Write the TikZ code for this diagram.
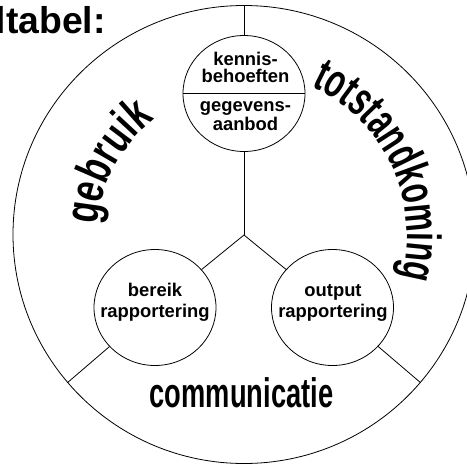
\documentclass[tikz,border=0pt]{standalone}
\usepackage{fontspec}
\setmainfont{Liberation Sans}
\newfontfamily\arcfont{Liberation Sans}[FakeStretch=0.64]
\newfontfamily\arcfontb{Liberation Sans}[FakeStretch=0.71]
\newfontfamily\commfont{Liberation Sans}[FakeStretch=0.66]
\usetikzlibrary{shapes.geometric,decorations.text}
\begin{document}
\begin{tikzpicture}[x=0.75pt,y=0.75pt,
  ring/.style={draw,ellipse,line width=0.6pt,inner sep=0pt},
  small/.style={ring,minimum width=91.5pt,minimum height=87pt},
  lbl/.style={font=\bfseries\fontsize{13.8pt}{16pt}\selectfont,anchor=base,inner sep=0pt},
  spoke/.style={line width=0.6pt},
  arctext/.style 2 args={decorate,decoration={text along path,text align=center,
     text={|#1\bfseries\fontsize{36pt}{40pt}\selectfont|#2}}}]
\useasboundingbox (0,0) rectangle (467,-464);
\coordinate (C) at (244,-234.5);
\node[ring,minimum width=346.5pt,minimum height=343.5pt] (outer) at (C) {};
\node[small] (know) at (244,-93.5) {};
\node[small] (reach) at (155,-307.5) {};
\node[small] (output) at (332.5,-307.5) {};
\coordinate (J) at (244,-235);
\draw[spoke] (outer.north) -- (know.north);
\draw[spoke] (know.west) -- (know.east);
\draw[spoke] (know.south) -- (J);
\draw[spoke] (J) -- (reach);
\draw[spoke] (J) -- (output);
\draw[spoke] (reach) -- (outer.220);
\draw[spoke] (output) -- (outer.320);
\node[lbl] (k1) at (245.5,-65.7) {kennis-};
\node[lbl] (k2) at (245.5,-82.3) {behoeften};
\node[lbl] (g1) at (245.5,-111.7) {gegevens-};
\node[lbl] (g2) at (245.5,-130) {aanbod};
\node[lbl] (b1) at (155,-296.7) {bereik};
\node[lbl] (b2) at (155,-317.7) {rapportering};
\node[lbl] (o1) at (333,-296.7) {output};
\node[lbl] (o2) at (333,-317.7) {rapportering};
\node[font=\bfseries\fontsize{28pt}{30pt}\selectfont,anchor=base west,inner sep=0pt] (title) at (-4.5,-33) {ltabel:};
\node[font=\commfont\bfseries\fontsize{31pt}{34pt}\selectfont,anchor=base,inner sep=0pt] (comm) at (241.5,-407) {communicatie};
\path[arctext={\arcfontb}{gebruik}] ([shift={(C)}]202:146) arc[start angle=202,end angle=102,radius=146];
\path[arctext={\arcfont}{totstandkoming}] ([shift={(C)}]90:163) arc[start angle=90,end angle=-40,radius=163];
\end{tikzpicture}
\end{document}
